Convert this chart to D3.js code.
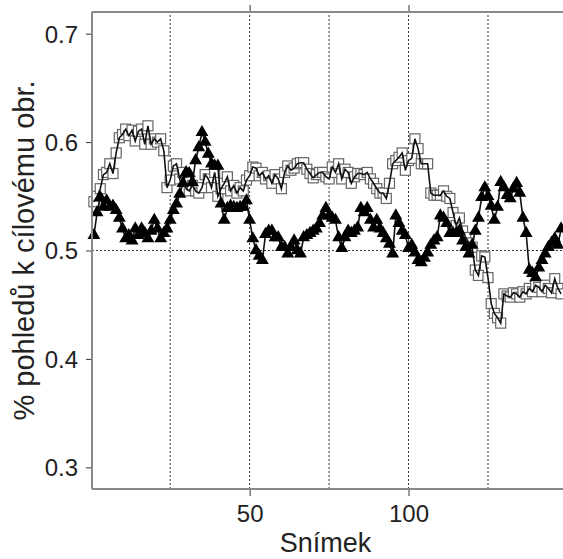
<!DOCTYPE html>
<html>
<head>
<meta charset="utf-8">
<script src="https://cdn.jsdelivr.net/npm/d3@7"></script>
<style>
  body { margin: 0; background: #fff; }
  svg { display: block; font-family: "Liberation Sans", Arial, sans-serif; }
</style>
</head>
<body>
<div id="chart"></div>
<script>
"use strict";

// frame values (frame 1..148)
var squares = [
  0.545, 0.550, 0.557, 0.570, 0.572, 0.580, 0.571, 0.590, 0.604, 0.607,
  0.612, 0.606, 0.611, 0.601, 0.610, 0.612, 0.598, 0.615, 0.598, 0.603,
  0.600, 0.603, 0.592, 0.558, 0.565, 0.578, 0.580, 0.566, 0.572, 0.557,
  0.555, 0.560, 0.555, 0.553, 0.558, 0.570, 0.566, 0.558, 0.572, 0.550,
  0.557, 0.562, 0.568, 0.555, 0.560, 0.553, 0.558, 0.555, 0.565, 0.569,
  0.577, 0.576, 0.569, 0.572, 0.566, 0.569, 0.562, 0.570, 0.566, 0.557,
  0.572, 0.578, 0.574, 0.576, 0.580, 0.581, 0.581, 0.575, 0.571, 0.567,
  0.570, 0.572, 0.572, 0.568, 0.566, 0.577, 0.572, 0.580, 0.566, 0.575,
  0.572, 0.562, 0.568, 0.571, 0.571, 0.570, 0.572, 0.566, 0.562, 0.557,
  0.553, 0.553, 0.548, 0.562, 0.580, 0.583, 0.586, 0.590, 0.574, 0.583,
  0.585, 0.603, 0.594, 0.580, 0.580, 0.580, 0.553, 0.551, 0.551, 0.551,
  0.555, 0.550, 0.548, 0.535, 0.523, 0.530, 0.518, 0.512, 0.507, 0.503,
  0.482, 0.477, 0.495, 0.494, 0.475, 0.451, 0.442, 0.438, 0.433, 0.460,
  0.458, 0.457, 0.461, 0.460, 0.457, 0.462, 0.460, 0.465, 0.462, 0.468,
  0.466, 0.462, 0.468, 0.465, 0.461, 0.474, 0.465, 0.460
];

var triangles = [
  0.514, 0.535, 0.549, 0.540, 0.546, 0.540, 0.541, 0.537, 0.530, 0.520,
  0.511, 0.514, 0.509, 0.520, 0.514, 0.520, 0.516, 0.511, 0.518, 0.528,
  0.520, 0.511, 0.516, 0.520, 0.528, 0.537, 0.543, 0.552, 0.562, 0.572,
  0.571, 0.563, 0.583, 0.595, 0.609, 0.600, 0.589, 0.580, 0.578, 0.578,
  0.543, 0.528, 0.539, 0.541, 0.540, 0.539, 0.540, 0.540, 0.546, 0.528,
  0.511, 0.500, 0.495, 0.491, 0.515, 0.518, 0.518, 0.512, 0.512, 0.503,
  0.503, 0.497, 0.503, 0.509, 0.500, 0.497, 0.512, 0.514, 0.516, 0.518,
  0.520, 0.525, 0.532, 0.539, 0.532, 0.530, 0.528, 0.512, 0.502, 0.512,
  0.518, 0.516, 0.518, 0.521, 0.539, 0.535, 0.539, 0.528, 0.521, 0.528,
  0.520, 0.516, 0.511, 0.506, 0.497, 0.532, 0.525, 0.518, 0.514, 0.502,
  0.505, 0.498, 0.491, 0.489, 0.493, 0.498, 0.505, 0.509, 0.512, 0.532,
  0.530, 0.525, 0.516, 0.516, 0.516, 0.518, 0.509, 0.503, 0.497, 0.505,
  0.518, 0.530, 0.549, 0.558, 0.550, 0.541, 0.528, 0.540, 0.563, 0.558,
  0.551, 0.548, 0.557, 0.562, 0.553, 0.530, 0.516, 0.482, 0.479, 0.475,
  0.484, 0.491, 0.497, 0.503, 0.507, 0.511, 0.505, 0.520
];

var yTicks = [0.3, 0.4, 0.5, 0.6, 0.7];
var xTicks = [50, 100];
var xGrid = [25, 50, 75, 100, 125];
var yGrid = [0.5];

var width = 563, height = 559;
var margin = {top: 12, right: 0, bottom: 70, left: 92};

var svg = d3.select("#chart").append("svg")
    .attr("width", width)
    .attr("height", height);

var x = d3.scaleLinear().domain([0.4, 148.6]).range([margin.left, width - margin.right]);
var y = d3.scaleLinear().domain([0.28, 0.72]).range([height - margin.bottom, margin.top]);

var sqData = squares.map(function(v, i) { return {f: i + 1, v: v}; });
var trData = triangles.map(function(v, i) { return {f: i + 1, v: v}; });

// dotted reference lines
svg.append("g").selectAll("line").data(xGrid).enter().append("line")
    .attr("x1", function(d) { return x(d); })
    .attr("x2", function(d) { return x(d); })
    .attr("y1", y(0.28)).attr("y2", y(0.72))
    .attr("stroke", "#333").attr("stroke-width", 1)
    .attr("stroke-dasharray", "2,2");
svg.append("g").selectAll("line").data(yGrid).enter().append("line")
    .attr("x1", x(0.4)).attr("x2", width)
    .attr("y1", function(d) { return y(d); })
    .attr("y2", function(d) { return y(d); })
    .attr("stroke", "#333").attr("stroke-width", 1)
    .attr("stroke-dasharray", "2,2");

var line = d3.line()
    .x(function(d) { return x(d.f); })
    .y(function(d) { return y(d.v); });

// squares series
svg.append("g").selectAll("rect").data(sqData).enter().append("rect")
    .attr("x", function(d) { return x(d.f) - 5; })
    .attr("y", function(d) { return y(d.v) - 5; })
    .attr("width", 10).attr("height", 10)
    .attr("fill", "#fff")
    .attr("stroke", "#666").attr("stroke-width", 1.2);
svg.append("path").datum(sqData)
    .attr("d", line)
    .attr("fill", "none")
    .attr("stroke", "#111").attr("stroke-width", 1.6);

// triangles series
svg.append("path").datum(trData)
    .attr("d", line)
    .attr("fill", "none")
    .attr("stroke", "#111").attr("stroke-width", 1.6);
var tri = d3.symbol().type(d3.symbolTriangle).size(72);
svg.append("g").selectAll("path").data(trData).enter().append("path")
    .attr("d", tri)
    .attr("transform", function(d) { return "translate(" + x(d.f) + "," + y(d.v) + ")"; })
    .attr("fill", "#000");

// axes
var axisCol = "#888";
var yAxis = svg.append("g")
    .attr("transform", "translate(" + margin.left + ",0)")
    .call(d3.axisLeft(y).tickValues(yTicks).tickSize(6).tickPadding(8)
      .tickFormat(d3.format(".1f")));
var xAxis = svg.append("g")
    .attr("transform", "translate(0," + (height - margin.bottom) + ")")
    .call(d3.axisBottom(x).tickValues(xTicks).tickSize(7).tickPadding(8));
var topAxis = svg.append("g")
    .attr("transform", "translate(0," + margin.top + ")")
    .call(d3.axisTop(x).tickValues(xTicks).tickSize(7).tickFormat(""));

[yAxis, xAxis, topAxis].forEach(function(g) {
  g.select(".domain").remove();
  g.selectAll(".tick line").attr("stroke", "#333");
  g.selectAll("text")
    .attr("fill", "#222")
    .style("font-size", "24px")
    .style("font-family", "Liberation Sans, Arial, sans-serif");
});
yAxis.selectAll("text").attr("dy", "0.35em");
xAxis.selectAll("text").attr("dy", "0.75em");

// frame of the plot
svg.append("line")
    .attr("x1", margin.left).attr("x2", margin.left)
    .attr("y1", margin.top).attr("y2", height - margin.bottom)
    .attr("stroke", axisCol).attr("stroke-width", 2);
svg.append("line")
    .attr("x1", margin.left).attr("x2", width)
    .attr("y1", height - margin.bottom).attr("y2", height - margin.bottom)
    .attr("stroke", axisCol).attr("stroke-width", 2);
svg.append("line")
    .attr("x1", margin.left).attr("x2", width)
    .attr("y1", margin.top).attr("y2", margin.top)
    .attr("stroke", axisCol).attr("stroke-width", 2);

// labels
svg.append("text")
    .attr("x", (margin.left + width) / 2 - 2)
    .attr("y", 552)
    .attr("text-anchor", "middle")
    .attr("fill", "#222")
    .style("font-size", "27px")
    .text("Snímek");
svg.append("text")
    .attr("transform", "translate(34," + y(0.5) + ") rotate(-90)")
    .attr("text-anchor", "middle")
    .attr("fill", "#222")
    .style("font-size", "29px")
    .text("% pohledů k cílovému obr.");
</script>
</body>
</html>
